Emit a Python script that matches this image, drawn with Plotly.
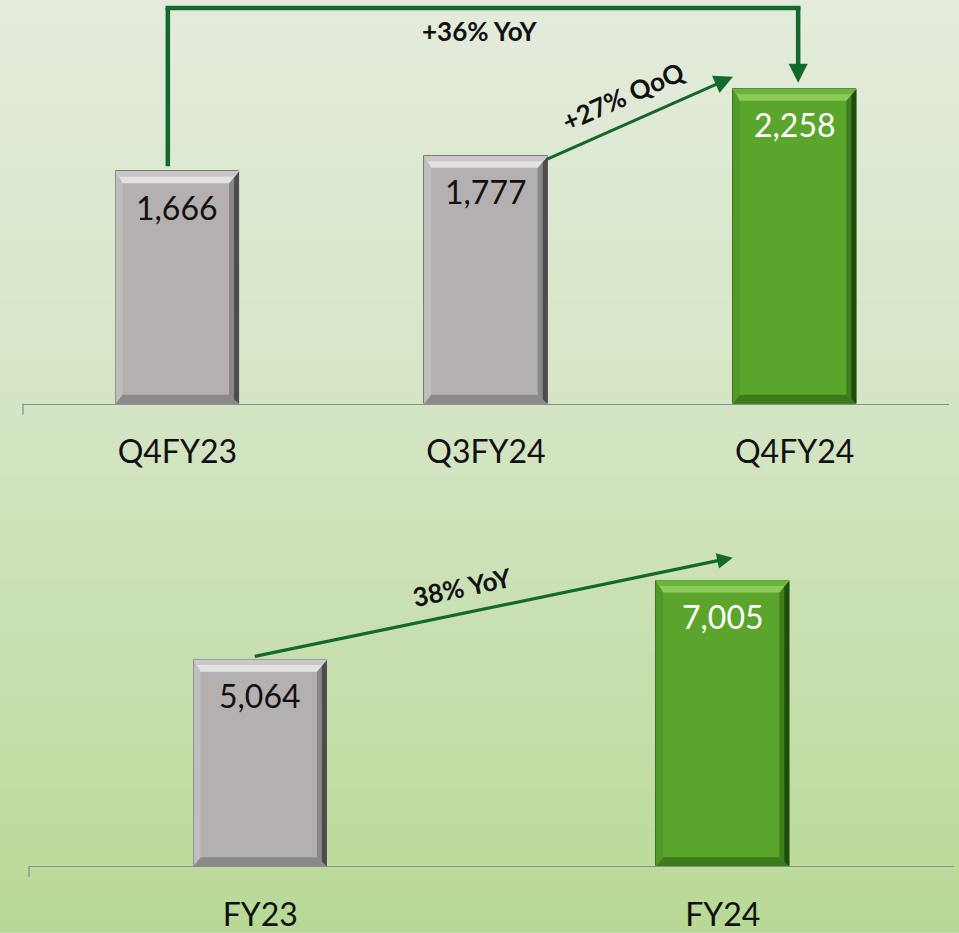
import plotly.graph_objects as go

# ---------------- data ----------------
q_labels = ["Q4FY23", "Q3FY24", "Q4FY24"]
q_values = [1666, 1777, 2258]
q_highlight = [False, False, True]

fy_labels = ["FY23", "FY24"]
fy_values = [5064, 7005]
fy_highlight = [False, True]

yoy_q_text = "+36% YoY"
qoq_text = "+27% QoQ"
yoy_fy_text = "38% YoY"

# ---------------- layout constants ----------------
W, H = 959, 933
FONT = "Lato"
ARROW = "#12692a"

TOP_XDOM = [23 / W, 949 / W]
TOP_XR = [-0.5, 2.5]
TOP_YDOM = [(H - 404.5) / H, 1.0]
TOP_YR = [0, 2895]

BOT_XDOM = [29 / W, 954 / W]
BOT_XR = [-0.5, 1.5]
BOT_YDOM = [(H - 868) / H, (H - 480) / H]
BOT_YR = [0, 9498]

TOP_W = 0.40
BOT_W = 0.288

GRAY = dict(face="#b4b0b0", line="#7c7979", top_o="#c9c7c7", top_i="#e3e2e2",
            right_o="#4d4b4b", right_i="#8a8787", bottom="#8c8989", left="#c0bdbd",
            text="#111111")
GREEN = dict(face="#5ca52c", line="#3a7419", top_o="#6db33d", top_i="#8acb5a",
             right_o="#1f4b0c", right_i="#3f7e1e", bottom="#3d7a1c", left="#53982a",
             text="#ffffff")


def px_scale(xdom, xr, ydom, yr):
    kx = (xdom[1] - xdom[0]) * W / (xr[1] - xr[0])
    ky = (ydom[1] - ydom[0]) * H / (yr[1] - yr[0])
    return kx, ky


def poly(pts):
    return "M " + " L ".join(f"{x},{y}" for x, y in pts) + " Z"


def bevel_shapes(xref, yref, xc, w, v, kx, ky, c):
    x0, x1 = xc - w / 2, xc + w / 2
    bt, br, bb, bl = 12 / ky, 10 / kx, 9 / ky, 7 / kx
    brh = br / 2
    shp = []
    common = dict(xref=xref, yref=yref, type="path", line=dict(width=0), layer="above")
    shp.append(dict(path=poly([(x0, v), (x0 + bl, v - bt), (x0 + bl, bb), (x0, 0)]),
                    fillcolor=c["left"], **common))
    shp.append(dict(path=poly([(x0, 0), (x1, 0), (x1 - br, bb), (x0 + bl, bb)]),
                    fillcolor=c["bottom"], **common))
    shp.append(dict(path=poly([(x1, v), (x1, 0), (x1 - br, bb), (x1 - br, v - bt)]),
                    fillcolor=c["right_i"], **common))
    shp.append(dict(path=poly([(x1, v), (x1, 0), (x1 - brh, bb / 2), (x1 - brh, v - bt / 2)]),
                    fillcolor=c["right_o"], **common))
    shp.append(dict(path=poly([(x0, v), (x1, v), (x1 - br, v - bt), (x0 + bl, v - bt)]),
                    fillcolor=c["top_i"], **common))
    shp.append(dict(path=poly([(x0, v), (x1, v), (x1 - brh, v - bt * 0.45), (x0 + bl / 2, v - bt * 0.45)]),
                    fillcolor=c["top_o"], **common))
    return shp


fig = go.Figure()
shapes = []
annotations = []

# ---------------- background gradient ----------------
stops = [(0.0, (228, 235, 220)), (0.5, (210, 228, 192)), (1.0, (184, 217, 150))]


def grad(t):
    for (t0, c0), (t1, c1) in zip(stops[:-1], stops[1:]):
        if t <= t1:
            f = (t - t0) / (t1 - t0)
            return "rgb(" + ",".join(str(round(a + (b - a) * f)) for a, b in zip(c0, c1)) + ")"
    return "rgb(%d,%d,%d)" % stops[-1][1]


N = 90
for i in range(N):
    t = (i + 0.5) / N
    shapes.append(dict(type="rect", xref="paper", yref="paper", x0=0, x1=1,
                       y0=1 - (i + 1) / N - 0.002, y1=1 - i / N,
                       fillcolor=grad(t), line=dict(width=0), layer="below"))


def add_panel(labels, values, hl, xa, ya, width, xdom, xr, ydom, yr):
    kx, ky = px_scale(xdom, xr, ydom, yr)
    xs = list(range(len(labels)))
    cols = [GREEN if h else GRAY for h in hl]
    fig.add_trace(go.Bar(
        x=xs, y=values, width=width, xaxis=xa, yaxis=ya,
        marker=dict(color=[c["face"] for c in cols],
                    line=dict(color=[c["line"] for c in cols], width=1)),
        hoverinfo="skip", showlegend=False))
    for x, v, c in zip(xs, values, cols):
        shapes.extend(bevel_shapes(xa, ya, x, width, v, kx, ky, c))
        annotations.append(dict(x=x, y=v, xref=xa, yref=ya, text=f"{v:,}",
                                showarrow=False, yanchor="middle", yshift=-36,
                                font=dict(family=FONT, size=32, color=c["text"])))
    shapes.append(dict(type="line", xref="paper", yref="paper",
                       x0=xdom[0], x1=xdom[0], y0=ydom[0], y1=ydom[0] - 11 / H,
                       line=dict(color="#8e8e8e", width=1.3), layer="above"))
    return kx, ky


kx1, ky1 = add_panel(q_labels, q_values, q_highlight, "x", "y",
                     TOP_W, TOP_XDOM, TOP_XR, TOP_YDOM, TOP_YR)
kx2, ky2 = add_panel(fy_labels, fy_values, fy_highlight, "x2", "y2",
                     BOT_W, BOT_XDOM, BOT_XR, BOT_YDOM, BOT_YR)

# ---------------- growth connectors ----------------
lx = 0 - 9.5 / kx1
rx = 2 + 3.5 / kx1
ytop = TOP_YR[1] - 8 / ky1
half = 2.25 / kx1
shapes.append(dict(type="line", xref="x", yref="y", x0=lx, x1=lx,
                   y0=q_values[0] + 5 / ky1, y1=ytop,
                   line=dict(color=ARROW, width=4.5), layer="above"))
shapes.append(dict(type="line", xref="x", yref="y", x0=lx - half, x1=rx + half,
                   y0=ytop, y1=ytop, line=dict(color=ARROW, width=4.5), layer="above"))
annotations.append(dict(x=rx, y=q_values[2] + 6 / ky1, xref="x", yref="y",
                        ax=rx, ay=ytop + 2.25 / ky1, axref="x", ayref="y",
                        text="", showarrow=True, arrowhead=2, arrowsize=0.85,
                        arrowwidth=4.5, arrowcolor=ARROW, standoff=0, startstandoff=0))
annotations.append(dict(x=0 + (480 - 177.3) / kx1, y=TOP_YR[1] - 31 / ky1, xref="x", yref="y",
                        text=f"<b>{yoy_q_text}</b>", showarrow=False,
                        font=dict(family=FONT, size=26, color="#111111")))

annotations.append(dict(x=2 - TOP_W / 2, y=q_values[2] + 12 / ky1, xref="x", yref="y",
                        ax=1 + TOP_W / 2 - 2 / kx1, ay=q_values[1] - 4 / ky1, axref="x", ayref="y",
                        text="", showarrow=True, arrowhead=2, arrowsize=1.25,
                        arrowwidth=3, arrowcolor=ARROW, standoff=0, startstandoff=0))
annotations.append(dict(x=1 + (623 - 485.8) / kx1, y=TOP_YR[1] - 96 / ky1, xref="x", yref="y",
                        text=f"<b>{qoq_text}</b>", showarrow=False, textangle=-24,
                        font=dict(family=FONT, size=26, color="#111111")))

annotations.append(dict(x=1 + 10 / kx2, y=fy_values[1] + 23 / ky2, xref="x2", yref="y2",
                        ax=0 - 7 / kx2, ay=fy_values[0] + 3 / ky2, axref="x2", ayref="y2",
                        text="", showarrow=True, arrowhead=2, arrowsize=0.95,
                        arrowwidth=3.3, arrowcolor=ARROW, standoff=0, startstandoff=0))
annotations.append(dict(x=0 + (462 - 260.2) / kx2, y=BOT_YR[1] - (588 - 480) / ky2,
                        xref="x2", yref="y2",
                        text=f"<b>{yoy_fy_text}</b>", showarrow=False, textangle=-12,
                        font=dict(family=FONT, size=26, color="#111111")))

# ---------------- axes ----------------
axis_x = dict(showline=True, linecolor="#8e8e8e", linewidth=1.3, showgrid=False,
              zeroline=False, ticks="", ticklabelstandoff=20,
              tickfont=dict(family=FONT, size=32, color="#111111"), fixedrange=True)
axis_y = dict(visible=False, showgrid=False, zeroline=False, fixedrange=True)

fig.update_layout(
    width=W, height=H,
    margin=dict(l=0, r=0, t=0, b=0),
    paper_bgcolor="rgb(228,235,220)",
    plot_bgcolor="rgba(0,0,0,0)",
    xaxis=dict(domain=TOP_XDOM, range=TOP_XR, tickvals=list(range(len(q_labels))),
               ticktext=q_labels, anchor="y", **axis_x),
    yaxis=dict(domain=TOP_YDOM, range=TOP_YR, anchor="x", **axis_y),
    xaxis2=dict(domain=BOT_XDOM, range=BOT_XR, tickvals=list(range(len(fy_labels))),
                ticktext=fy_labels, anchor="y2", **axis_x),
    yaxis2=dict(domain=BOT_YDOM, range=BOT_YR, anchor="x2", **axis_y),
    shapes=shapes,
    annotations=annotations,
    showlegend=False,
    bargap=0,
)

fig.write_html("out.html", config={"displayModeBar": False},
               post_script="document.body.style.margin='0';document.body.style.overflow='hidden';")
